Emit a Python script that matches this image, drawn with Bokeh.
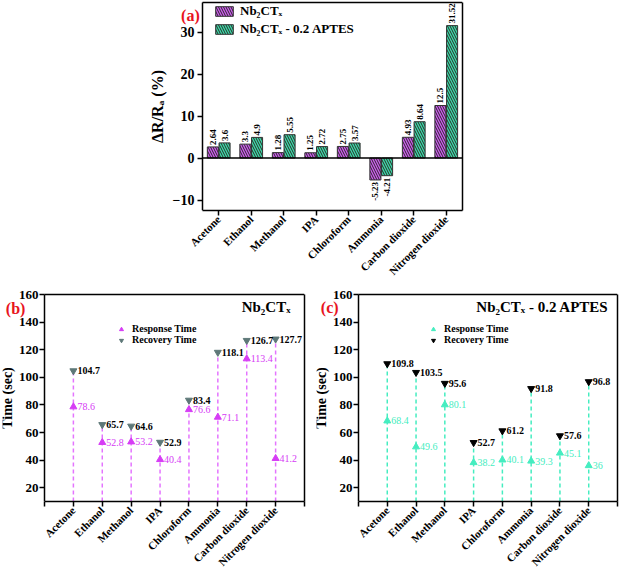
import math
from bokeh.plotting import figure
from bokeh.layouts import column, row
from bokeh.models import (ColumnDataSource, FixedTicker, Label, Legend,
                          LegendItem, Range1d, LinearAxis)
from bokeh.core.properties import value
from bokeh.embed import file_html
from bokeh.resources import INLINE

# ---------------- data ----------------
gases = ["Acetone", "Ethanol", "Methanol", "IPA", "Chloroform", "Ammonia",
         "Carbon dioxide", "Nitrogen dioxide"]
resp_nb2ctx = [2.64, 3.3, 1.28, 1.25, 2.75, -5.23, 4.93, 12.5]
resp_aptes = [3.6, 4.9, 5.55, 2.72, 3.57, -4.21, 8.64, 31.52]
b_response = [78.6, 52.8, 53.2, 40.4, 76.6, 71.1, 113.4, 41.2]
b_recovery = [104.7, 65.7, 64.6, 52.9, 83.4, 118.1, 126.7, 127.7]
c_response = [68.4, 49.6, 80.1, 38.2, 40.1, 39.3, 45.1, 36]
c_recovery = [109.8, 103.5, 95.6, 52.7, 61.2, 91.8, 57.6, 96.8]
yticks_a = [-10, 0, 10, 20, 30]
yticks_time = [20, 40, 60, 80, 100, 120, 140, 160]

SERIF = "Liberation Serif"
PURPLE = "#CF5CF0"
GREEN = "#3DDCA9"
RED = "#E8141E"


def fmt(v):
    return ("%g" % v)


def style_axis(ax):
    ax.axis_line_width = 1.5
    ax.axis_line_color = "black"
    ax.major_tick_line_width = 1.5
    ax.major_tick_out = 5
    ax.major_tick_in = 0
    ax.minor_tick_line_color = None
    ax.major_label_text_font = SERIF
    ax.major_label_text_font_style = "bold"
    ax.major_label_text_color = "black"
    ax.axis_label_text_font = SERIF
    ax.axis_label_text_font_style = "bold"
    ax.axis_label_text_color = "black"


def plain_axis(bounds, fixed=None):
    ax = LinearAxis(ticker=FixedTicker(ticks=[]), axis_line_width=1.5,
                    axis_line_color="black", major_tick_out=0,
                    major_tick_in=0, minor_tick_line_color=None,
                    major_label_standoff=0, major_label_text_font_size="0px",
                    bounds=bounds)
    if fixed is not None:
        ax.fixed_location = fixed
    return ax


def setup(p, x_lo, x_hi, y_lo, y_hi, xticks, overrides, yticks, tick_size,
          ylabel, ylabel_size):
    p.xgrid.visible = False
    p.ygrid.visible = False
    p.outline_line_color = None
    p.background_fill_color = "white"
    p.border_fill_color = "white"
    xa, ya = p.xaxis[0], p.yaxis[0]
    style_axis(xa)
    style_axis(ya)
    xa.bounds = (x_lo, x_hi)
    xa.ticker = FixedTicker(ticks=xticks)
    xa.major_label_overrides = overrides
    xa.major_label_text_font_size = "11px"
    xa.major_label_orientation = math.pi / 4
    xa.major_label_standoff = 2
    ya.fixed_location = x_lo
    ya.bounds = (y_lo, y_hi)
    ya.ticker = FixedTicker(ticks=yticks)
    ya.major_label_text_font_size = tick_size
    ya.axis_label = ylabel
    ya.axis_label_text_font_size = ylabel_size
    p.add_layout(plain_axis((x_lo, x_hi), y_hi), "above")
    p.add_layout(plain_axis((y_lo, y_hi)), "right")


# ---------------- panel (a) ----------------
n = len(gases)
xs = list(range(n))
ax_lo, ax_hi = -0.5, n - 0.5
ay_lo, ay_hi = -12.5, 37
pa = figure(width=620, height=284, x_range=Range1d(-2.16, ax_hi),
            y_range=Range1d(ay_lo, 37.5), output_backend="svg",
            toolbar_location=None, min_border_left=148, min_border_right=158,
            min_border_top=0, min_border_bottom=74)
setup(pa, ax_lo, ax_hi, ay_lo, ay_hi, xs, {i: g for i, g in enumerate(gases)},
      yticks_a, "14px", "\u0394R/R\u2090 (%)", "16px")
pa.yaxis[0].axis_label_standoff = 4
pa.yaxis[0].major_label_standoff = 3

off = 0.18
bw = 0.34
src_a = ColumnDataSource(dict(
    x1=[i - off for i in xs], x2=[i + off for i in xs],
    v1=resp_nb2ctx, v2=resp_aptes))
r1 = pa.vbar(x="x1", top="v1", bottom=0, width=bw, source=src_a,
             fill_color=PURPLE, line_color="#333333", line_width=1,
             hatch_pattern="\\", hatch_color="#2a2a2a", hatch_scale=5,
             hatch_weight=1)
r2 = pa.vbar(x="x2", top="v2", bottom=0, width=bw, source=src_a,
             fill_color=GREEN, line_color="#333333", line_width=1,
             hatch_pattern="\\", hatch_color="#2a2a2a", hatch_scale=5,
             hatch_weight=1)
# zero line across the plotting box
pa.segment(x0=[ax_lo], y0=[0], x1=[ax_hi], y1=[0], line_color="black",
           line_width=1.5)

# value labels
pos_x, pos_y, pos_t, neg_x, neg_y, neg_t = [], [], [], [], [], []
for i in xs:
    for xx, v in ((i - off, resp_nb2ctx[i]), (i + off, resp_aptes[i])):
        if v >= 0:
            pos_x.append(xx); pos_y.append(v); pos_t.append(fmt(v))
        else:
            neg_x.append(xx); neg_y.append(v); neg_t.append(fmt(v))
pa.text(x=pos_x, y=pos_y, text=pos_t, angle=math.pi / 2, text_align="left",
        text_baseline="middle", y_offset=-2, text_font=value(SERIF),
        text_font_size="9px", text_font_style="bold", text_color="black")
pa.text(x=neg_x, y=neg_y, text=neg_t, angle=math.pi / 2, text_align="right",
        text_baseline="middle", y_offset=2, text_font=value(SERIF),
        text_font_size="9px", text_font_style="bold", text_color="black")

leg_a = Legend(items=[LegendItem(label="Nb\u2082CT\u2093", renderers=[r1]),
                      LegendItem(label="Nb\u2082CT\u2093 - 0.2 APTES",
                                 renderers=[r2])],
               location=(65, 173), orientation="vertical",
               glyph_width=22, glyph_height=12, label_height=12,
               spacing=2, padding=0, margin=0, label_standoff=5,
               border_line_alpha=0, background_fill_alpha=0,
               label_text_font=SERIF, label_text_font_style="bold",
               label_text_font_size="13px", label_text_color="black")
pa.add_layout(leg_a)
pa.add_layout(Label(x=-0.87, y=33.9, text="(a)", text_align="center",
                    text_baseline="middle", text_font=SERIF,
                    text_font_style="bold", text_font_size="16px",
                    text_color=RED))


# ---------------- panels (b), (c) ----------------
def time_fig(response, recovery, resp_color, line_color, rec_color, title,
             panel, width, x_left, mbl, mbr, title_x, panel_xy, leg_x):
    y_lo, y_hi = 10, 160
    p = figure(width=width, height=295, x_range=Range1d(x_left, n + 1),
               y_range=Range1d(y_lo, 165.8), output_backend="svg",
               toolbar_location=None, min_border_left=mbl,
               min_border_right=mbr, min_border_top=2, min_border_bottom=78)
    ov = {0: "", n + 1: ""}
    ov.update({i + 1: g for i, g in enumerate(gases)})
    setup(p, 0, n + 1, y_lo, y_hi, list(range(n + 2)), ov, yticks_time,
          "13px", "Time (sec)", "14px")
    p.yaxis[0].axis_label_standoff = 1
    p.yaxis[0].major_label_standoff = 1

    px = [i + 1 for i in xs]
    src = ColumnDataSource(dict(
        x=px, y0=[y_lo] * n, resp=response, rec=recovery,
        resp_t=[fmt(v) for v in response], rec_t=[fmt(v) for v in recovery]))
    p.segment(x0="x", y0="y0", x1="x", y1="rec", source=src,
              line_color=line_color, line_width=1.5, line_dash="4 3")
    ra = p.scatter(x="x", y="resp", source=src, marker="triangle", size=7,
                   fill_color=resp_color, line_color=resp_color)
    rb = p.scatter(x="x", y="rec", source=src, marker="inverted_triangle",
                   size=7, fill_color=rec_color, line_color=rec_color)
    p.text(x="x", y="resp", text="resp_t", source=src, x_offset=4,
           text_align="left", text_baseline="middle", text_font=value(SERIF),
           text_font_size="10px", text_color=resp_color)
    p.text(x="x", y="rec", text="rec_t", source=src, x_offset=4,
           text_align="left", text_baseline="middle", text_font=value(SERIF),
           text_font_size="10px", text_font_style="bold", text_color="black")

    leg = Legend(items=[LegendItem(label="Response Time", renderers=[ra]),
                        LegendItem(label="Recovery Time", renderers=[rb])],
                 location=(leg_x, 156), orientation="vertical",
                 glyph_width=10, glyph_height=10, label_height=10,
                 spacing=-2, padding=0, margin=0, label_standoff=6,
                 border_line_alpha=0, background_fill_alpha=0,
                 label_text_font=SERIF, label_text_font_style="bold",
                 label_text_font_size="10px", label_text_color="black")
    p.add_layout(leg)
    p.add_layout(Label(x=title_x, y=150.6, text=title, text_align="right",
                       text_baseline="middle", text_font=SERIF,
                       text_font_style="bold", text_font_size="15px",
                       text_color="black"))
    p.add_layout(Label(x=panel_xy[0], y=panel_xy[1], text=panel,
                       text_align="center", text_baseline="middle",
                       text_font=SERIF, text_font_style="bold",
                       text_font_size="16px", text_color=RED))
    return p


pb = time_fig(b_response, b_recovery, "#D63CF5", "#E474FF", "#5E7878",
              "Nb\u2082CT\u2093", "(b)", 311, -1.454, 2, 7, 8.515,
              (-1.0, 149.9), 114)
pc = time_fig(c_response, c_recovery, "#45EDC0", "#45EDC0", "black",
              "Nb\u2082CT\u2093 - 0.2 APTES", "(c)", 309, -1.459, 5, 3, 8.687,
              (-1.0, 150.6), 112)

layout = column(pa, row(pb, pc))
open("out.html", "w").write(file_html(layout, INLINE))
